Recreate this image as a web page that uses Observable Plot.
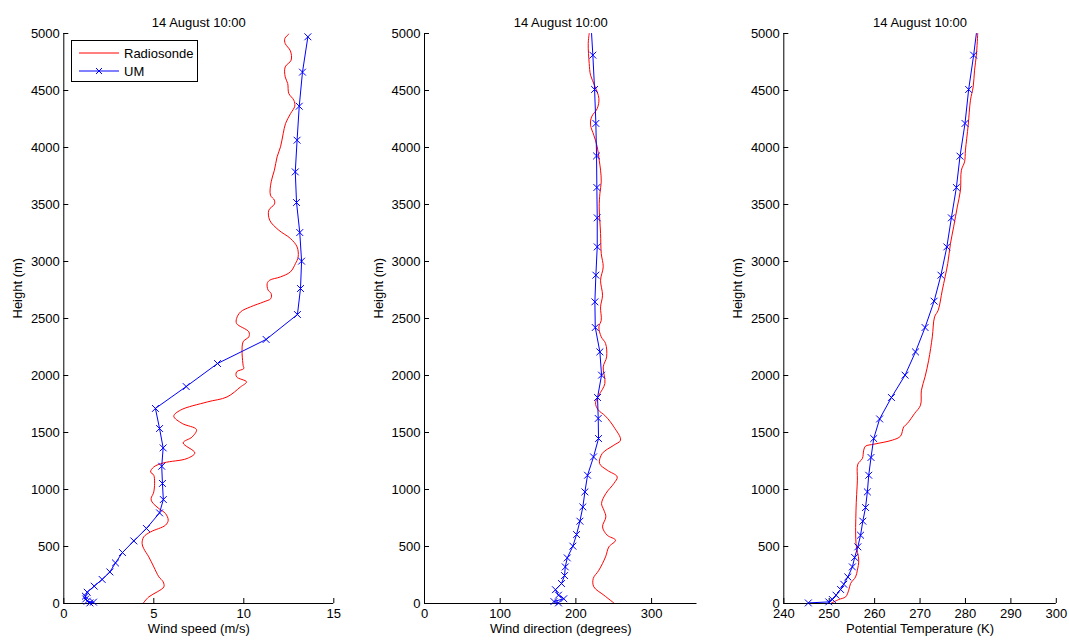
<!DOCTYPE html>
<html><head><meta charset="utf-8">
<script src="https://cdn.jsdelivr.net/npm/d3@7"></script>
<script src="https://cdn.jsdelivr.net/npm/@observablehq/plot@0.6"></script>
<style>
body{margin:0;background:#fff;}
#wrap{position:relative;width:1069px;height:640px;font-family:"Liberation Sans",Arial,sans-serif;overflow:hidden;}
.panel{position:absolute;top:0;height:640px;}
#legend{position:absolute;left:71px;top:40px;width:125px;height:40px;border:1px solid #000;background:#fff;font-size:13px;color:#000;}
#legend .row{position:absolute;left:0;height:18px;display:flex;align-items:center;}
#legend svg{display:block;margin-left:7px;margin-right:5px;}
</style></head><body>
<div id="wrap"></div>
<script>
// ---------- data ----------
const title = "14 August 10:00";
const yTicks = [0,500,1000,1500,2000,2500,3000,3500,4000,4500,5000];
const speedTicks = [0,5,10,15];
const dirTicks = [0,100,200,300];
const thetaTicks = [240,250,260,270,280,290,300];

// Wind speed, radiosonde
const sondeSpeedH = [0,58,102,146,190,234,321,409,482,526,584,628,687,731,789,833,891,921,979,1125,1154,1198,1234,1272,1321,1409,1461,1526,1579,1643,1696,1768,1812,1900,1944,1988,2032,2061,2090,2295,2339,2383,2456,2500,2558,2602,2646,2675,2719,2749,2807,2836,2865,2909,2982,3040,3128,3202,3275,3362,3450,3503,3538,3582,3699,3801,3918,4006,4123,4211,4298,4362,4415,4474,4561,4619,4707,4766,4847,4912,4956,4995];
const sondeSpeed = [4.4,4.72,5.19,5.56,5.52,5.28,5.0,4.72,4.44,4.35,4.44,4.82,5.65,5.8,5.65,5.28,4.9,4.85,5.0,5.0,4.82,5.0,5.56,6.85,7.28,6.63,7.13,7.37,6.58,6.11,6.48,7.97,9.07,9.82,10.15,9.6,9.6,10.0,9.96,9.96,10.28,10.28,9.6,9.6,9.82,10.37,11.11,11.5,11.52,11.35,11.3,11.44,12.04,12.59,12.87,13.02,12.96,12.59,11.94,11.44,11.39,11.7,11.7,11.48,11.52,11.7,11.85,12.04,12.19,12.32,12.6,12.83,12.78,12.5,12.44,12.3,12.3,12.63,12.59,12.3,12.28,12.5];
// Wind speed, UM
const umSpeedH = [5,12,20,40,64,99,152,211,277,356,447,549,658,795,912,1053,1204,1365,1535,1711,1903,2105,2316,2535,2763,3003,3254,3517,3786,4064,4362,4661,4971];
const umSpeed = [1.45,1.65,1.3,1.22,1.2,1.3,1.69,2.13,2.56,2.87,3.26,3.89,4.59,5.32,5.53,5.48,5.44,5.52,5.32,5.09,6.8,8.54,11.24,12.98,13.15,13.21,13.11,12.93,12.86,12.96,13.08,13.26,13.56];

// Wind direction, radiosonde
const sondeDirH = [0,73,146,219,292,409,497,555,599,672,760,819,877,965,1053,1111,1169,1228,1316,1389,1433,1549,1643,1702,1760,1827,1930,2075,2163,2281,2339,2426,2485,2602,2704,2836,2953,3070,3246,3479,3596,3699,3801,3889,4006,4108,4196,4268,4342,4430,4538,4634,4737,4912,5000];
const sondeDir = [251.1,237.0,223.7,222.9,230.4,239.2,243.6,252.4,241.4,235.2,239.6,237.0,233.9,239.6,250.2,254.6,241.4,231.3,234.8,250.2,259.0,250.2,239.2,229.0,226.0,230.4,238.3,236.1,240.6,239.2,233.5,230.4,233.5,232.6,235.2,232.6,236.1,233.5,232.6,230.8,231.7,233.5,232.6,230.8,228.2,223.7,219.4,220.7,228.2,230.4,225.1,219.4,217.6,216.3,217.6];
// UM levels (theta levels) used for direction and potential temperature
const umDirH = [5,17,42,73,121,175,245,321,400,503,605,722,847,979,1125,1286,1447,1623,1807,2003,2207,2421,2646,2880,3128,3383,3649,3926,4211,4509,4810,5000];
const umDir = [177,171,184,177,173,181,185,186,188.6,196.0,200.9,205.3,209.2,211.9,215.4,223.3,229.9,229.5,228.6,233.9,231.7,225.6,225.1,226.4,228.2,228.2,227.7,227.3,226.4,224.7,222.4,220.7];

// Potential temperature, radiosonde
const sondeThetaH = [0,35,58,117,175,233,292,380,526,819,1082,1222,1272,1345,1380,1397,1433,1468,1549,1579,1667,1739,1871,1988,2134,2339,2514,2573,2749,2982,3158,3304,3479,3626,3801,3874,3977,4196,4415,4532,4678,4810,5000];
const sondeTheta = [250.3,252.1,253.6,254.3,254.7,255.8,256.2,256.5,255.9,255.9,256.2,256.3,257.3,257.6,258.0,259.8,263.9,265.7,266.4,267.2,268.8,270.1,270.3,271.1,271.9,272.7,273.2,274.0,274.9,276.1,276.7,277.4,278.2,278.9,279.1,279.8,280.0,280.6,281.1,281.7,282.0,282.4,282.7];
// Potential temperature, UM
const umThetaH = [5,14,35,73,123,169,233,321,404,497,599,722,842,979,1125,1281,1447,1619,1807,2003,2207,2421,2652,2880,3128,3383,3649,3924,4211,4509,4810,5000];
const umTheta = [245.4,249.9,250.7,251.5,252.5,253.2,254.1,255.1,255.6,256.3,256.9,257.4,258.0,258.4,258.7,259.2,259.8,261.1,263.7,266.7,269.0,271.1,273.1,274.6,275.9,276.9,278.0,278.8,279.9,280.7,281.8,282.4];

// ---------- drawing ----------
const FONT = '"Liberation Sans", Arial, Helvetica, sans-serif';
const TOP = 33, BOTTOM = 37, H = 640;
const wrap = document.getElementById("wrap");

function panel({left, width, mL, mR, xDomain, xTicks, xLabel, sX, sH, uX, uH}) {
  const plotW = width - mL - mR, plotH = H - TOP - BOTTOM;
  const sonde = sH.map((h, i) => ({h, v: sX[i]}));
  const um = uH.map((h, i) => ({h, v: uX[i]}));
  const svg = Plot.plot({
    width, height: H,
    marginLeft: mL, marginRight: mR, marginTop: TOP, marginBottom: BOTTOM,
    style: {fontFamily: FONT, fontSize: "13px", color: "#000", background: "transparent", maxWidth: "none"},
    x: {domain: xDomain},
    y: {domain: [0, 5000]},
    marks: [
      Plot.axisX(xTicks, {anchor: "bottom", tickSize: 0, tickPadding: 5, label: null, tickFormat: d => String(d)}),
      Plot.axisY(yTicks, {anchor: "left", tickSize: 0, tickPadding: 4, label: null, tickFormat: d => String(d)}),
      Plot.tickY(yTicks, {y: d => d, insetRight: plotW - 5, stroke: "#000", strokeWidth: 1}),
      Plot.tickX(xTicks, {x: d => d, insetTop: plotH - 5, stroke: "#000", strokeWidth: 1}),
      Plot.ruleX([xDomain[0]], {stroke: "#000", strokeWidth: 1}),
      Plot.ruleY([0], {stroke: "#000", strokeWidth: 1}),
      Plot.line(sonde, {x: "v", y: "h", stroke: "#ff0000", strokeWidth: 1, curve: "catmull-rom", clip: true}),
      Plot.line(um, {x: "v", y: "h", stroke: "#0000ff", strokeWidth: 1, clip: true}),
      Plot.dot(um, {x: "v", y: "h", filter: d => d.h < 5000, symbol: "times", stroke: "#0000ff", strokeWidth: 1, r: 3.2}),
      Plot.text([title], {frameAnchor: "top", dy: -16, fill: "#000"}),
      Plot.text([xLabel], {frameAnchor: "bottom", dy: 29, fill: "#000"}),
      Plot.text(["Height (m)"], {frameAnchor: "left", dx: -46, rotate: -90, fill: "#000"})
    ]
  });
  const div = document.createElement("div");
  div.className = "panel";
  div.style.left = left + "px";
  div.style.width = width + "px";
  div.appendChild(svg);
  wrap.appendChild(div);
}

panel({left: 0, width: 356, mL: 63.3, mR: 22.7, xDomain: [0, 15], xTicks: speedTicks,
  xLabel: "Wind speed (m/s)", sX: sondeSpeed, sH: sondeSpeedH, uX: umSpeed, uH: umSpeedH});
panel({left: 360, width: 356, mL: 64, mR: 19.5, xDomain: [0, 360], xTicks: dirTicks,
  xLabel: "Wind direction (degrees)", sX: sondeDir, sH: sondeDirH, uX: umDir, uH: umDirH});
panel({left: 713, width: 356, mL: 70.3, mR: 13.2, xDomain: [240, 300], xTicks: thetaTicks,
  xLabel: "Potential Temperature (K)", sX: sondeTheta, sH: sondeThetaH, uX: umTheta, uH: umThetaH});

// legend
const legend = document.createElement("div");
legend.id = "legend";
legend.innerHTML = `
  <div class="row" style="top:3px"><svg width="40" height="10"><line x1="0" x2="40" y1="5" y2="5" stroke="#ff0000" stroke-width="1"/></svg><span>Radiosonde</span></div>
  <div class="row" style="top:21px"><svg width="40" height="10"><line x1="0" x2="40" y1="5" y2="5" stroke="#0000ff" stroke-width="1"/><path d="M17,2L23,8M23,2L17,8" stroke="#0000ff" stroke-width="1"/></svg><span>UM</span></div>`;
wrap.appendChild(legend);
</script>
</body></html>
